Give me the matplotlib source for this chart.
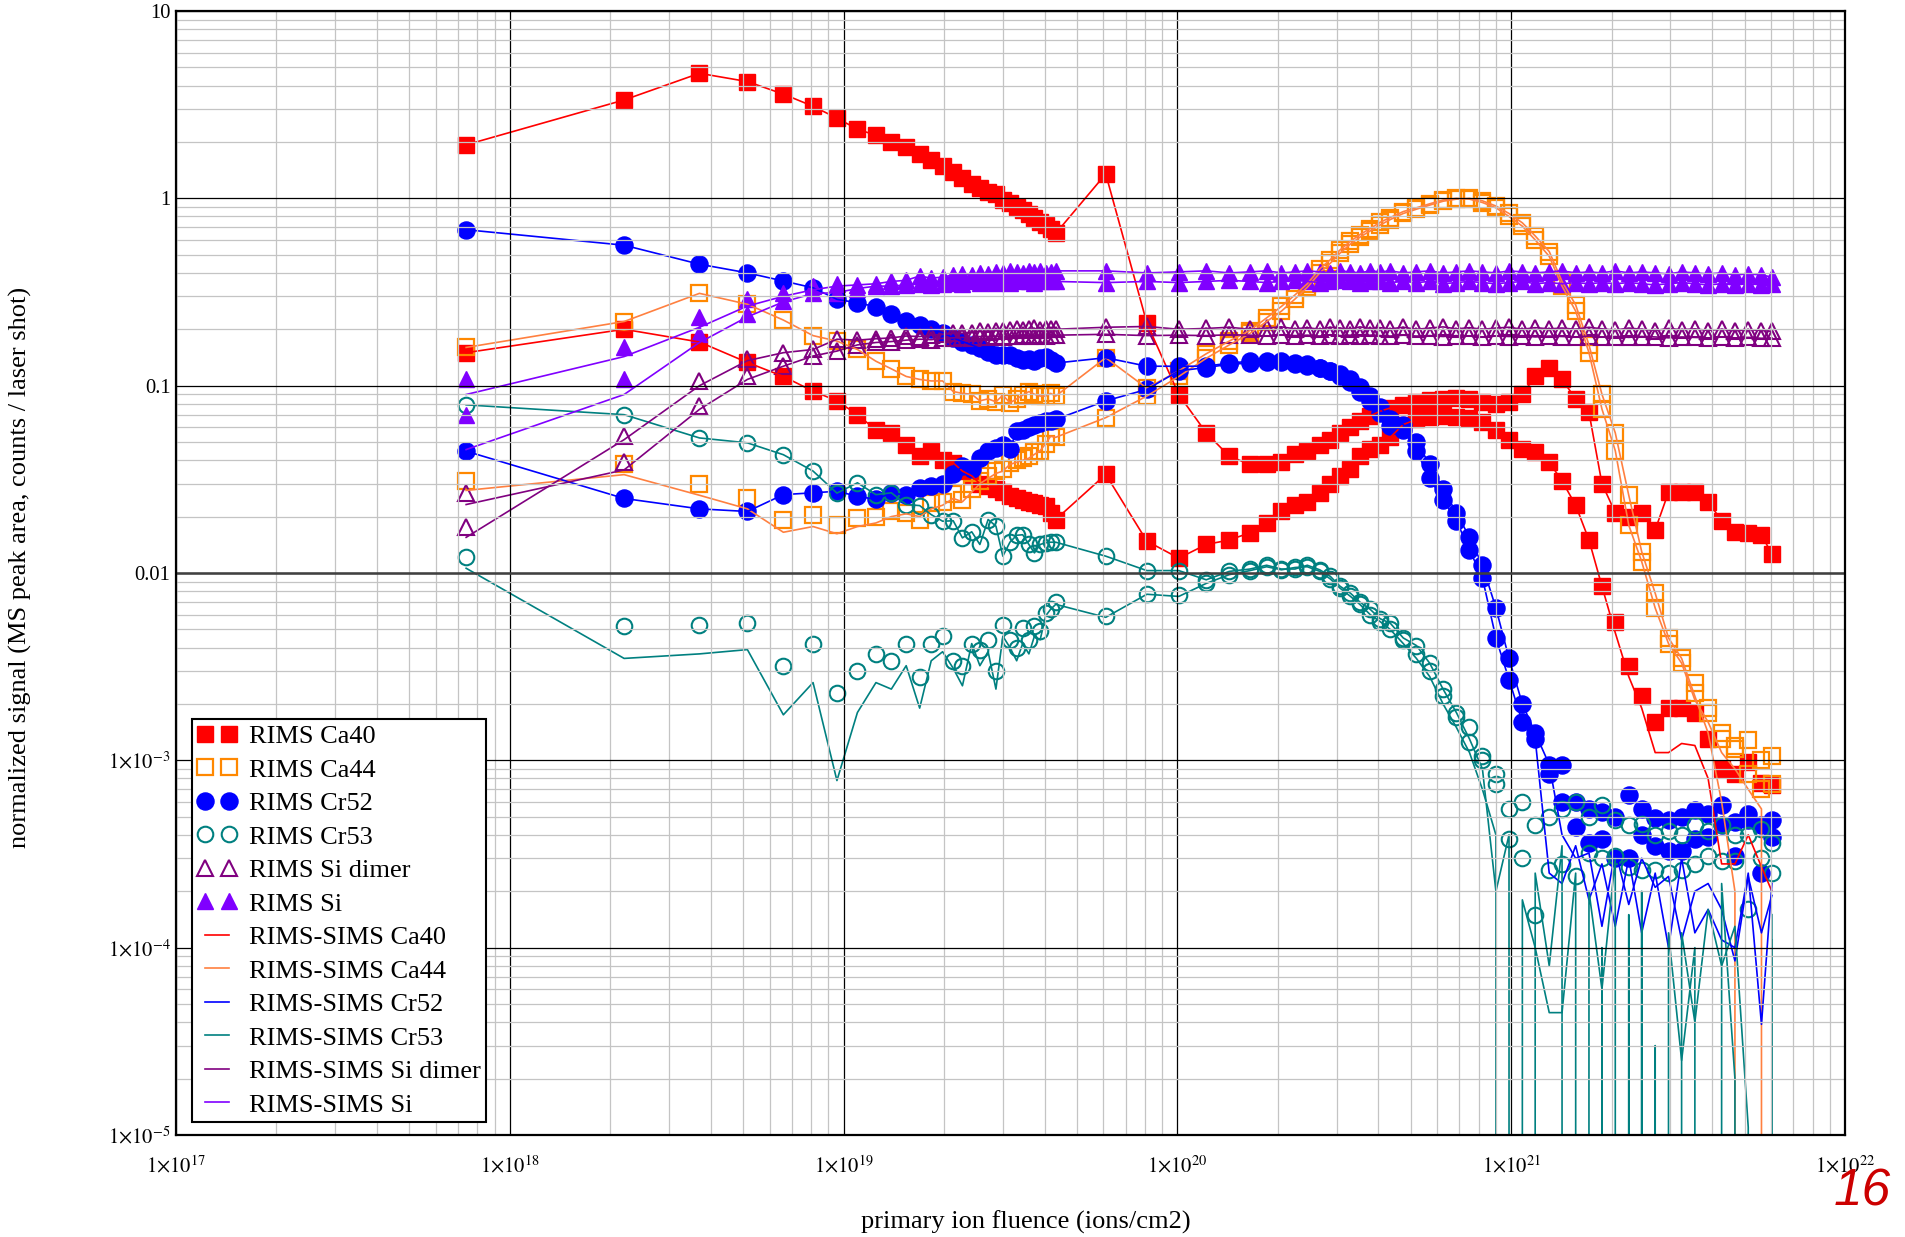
import numpy as np
import matplotlib
matplotlib.use('Agg')
import matplotlib.pyplot as plt
from matplotlib.ticker import LogLocator, NullFormatter

plt.rcParams['font.family'] = ['Liberation Serif', 'DejaVu Serif']
plt.rcParams['mathtext.fontset'] = 'stix'

############################################################################
#   Data, fluence in units of 1e18 ions/cm2         #
############################################################################
fluence_e18 = [0.74, 2.2, 3.7, 5.15, 6.6, 8.1, 9.55, 11.0, 12.5, 13.9,
               15.4, 16.9, 18.3, 19.8, 21.3, 22.7, 24.2, 25.6, 27.1, 28.6,
               30.0, 31.5, 33.0, 34.4, 35.9, 37.3, 38.8, 40.3, 41.7, 43.2,
               61, 81,
               101, 122, 143, 165, 185, 205, 225, 245, 267, 287, 307, 330, 352, 378, 405, 434,
               475, 520, 570, 625, 685, 750, 820, 900, 985, 1080, 1180, 1300, 1420, 1560,
               1710, 1870, 2050, 2250, 2460, 2700, 2960, 3240, 3550, 3890, 4270, 4680, 5130, 5620, 6040]

# RIMS Ca40 (two runs)
ca40_run1 = [1.93, 3.35, 4.65, 4.2, 3.6, 3.1, 2.68, 2.34, 2.17, 1.99,
             1.87, 1.73, 1.61, 1.49, 1.39, 1.29, 1.19, 1.14, 1.08, 1.05,
             0.98, 0.95, 0.90, 0.87, 0.82, 0.79, 0.75, 0.72, 0.69, 0.65,
             1.35, 0.216,
             0.0895, 0.056, 0.042, 0.038, 0.038, 0.039, 0.043, 0.045, 0.048, 0.051, 0.056, 0.060, 0.065, 0.069, 0.073, 0.076,
             0.079, 0.082, 0.084, 0.085, 0.086, 0.085, 0.082, 0.080, 0.082, 0.09, 0.112, 0.124, 0.108, 0.085,
             0.072, 0.03, 0.021, 0.02, 0.021, 0.017, 0.027, 0.027, 0.027, 0.024, 0.019, 0.0165, 0.0163, 0.016, 0.0126]
ca40_run2 = [0.15, 0.20, 0.171, 0.133, 0.112, 0.0935, 0.083, 0.070, 0.058, 0.056,
             0.0485, 0.042, 0.045, 0.040, 0.0387, 0.035, 0.033, 0.030, 0.029, 0.028,
             0.027, 0.0257, 0.025, 0.0245, 0.024, 0.0235, 0.023, 0.0227, 0.021, 0.0193,
             0.0336, 0.0148,
             0.012, 0.0142, 0.015, 0.0164, 0.0185, 0.0214, 0.023, 0.024, 0.0267, 0.030, 0.033, 0.036, 0.042, 0.046, 0.048, 0.053,
             0.062, 0.066, 0.068, 0.069, 0.068, 0.067, 0.064, 0.058, 0.051, 0.046, 0.044, 0.039, 0.031, 0.023,
             0.015, 0.0085, 0.0055, 0.0032, 0.0022, 0.0016, 0.0019, 0.0019, 0.0018, 0.0013, 0.0009, 0.00085, 0.00098, 0.00076, 0.00074]

# RIMS Ca44
ca44_run1 = [0.16, 0.22, 0.311, 0.272, 0.224, 0.185, 0.173, 0.156, 0.135, 0.123,
             0.112, 0.108, 0.106, 0.106, 0.093, 0.091, 0.090, 0.083, 0.085, 0.082,
             0.089, 0.081, 0.085, 0.089, 0.093, 0.090, 0.088, 0.088, 0.091, 0.088,
             0.141, 0.097,
             0.12, 0.148, 0.173, 0.197, 0.23, 0.265, 0.305, 0.35, 0.42, 0.47, 0.53, 0.59, 0.64, 0.69, 0.745, 0.79,
             0.85, 0.89, 0.935, 0.98, 1.0, 0.99, 0.95, 0.89, 0.80, 0.71, 0.60, 0.49, 0.34, 0.25,
             0.15, 0.075, 0.045, 0.018, 0.0115, 0.0065, 0.0042, 0.0033, 0.0023, 0.0018, 0.0014, 0.0012, 0.00128, 0.001, 0.00105]
ca44_run2 = [0.031, 0.038, 0.0297, 0.0251, 0.0193, 0.0205, 0.0181, 0.0197, 0.020, 0.0214,
             0.021, 0.0193, 0.0237, 0.024, 0.0263, 0.0245, 0.028, 0.031, 0.033, 0.035,
             0.036, 0.0387, 0.040, 0.041, 0.042, 0.044, 0.045, 0.049, 0.0537, 0.053,
             0.0675, 0.088,
             0.112, 0.14, 0.165, 0.19, 0.22, 0.25, 0.29, 0.335, 0.40, 0.45, 0.51, 0.57, 0.62, 0.67, 0.72, 0.77,
             0.83, 0.875, 0.92, 0.965, 0.99, 1.0, 0.97, 0.91, 0.83, 0.74, 0.63, 0.52, 0.36, 0.27,
             0.165, 0.09, 0.056, 0.026, 0.013, 0.0078, 0.0045, 0.0035, 0.0026, 0.0019, 0.0013, 0.00115, 0.00085, 0.0007, 0.00075]

# RIMS Cr52
cr52_run1 = [0.68, 0.562, 0.445, 0.40, 0.362, 0.333, 0.289, 0.277, 0.264, 0.24,
             0.222, 0.212, 0.20, 0.192, 0.18, 0.172, 0.165, 0.158, 0.152, 0.146,
             0.145, 0.145, 0.14, 0.137, 0.138, 0.136, 0.14, 0.142, 0.137, 0.132,
             0.141, 0.127,
             0.127, 0.127, 0.132, 0.135, 0.135, 0.135, 0.13, 0.13, 0.124, 0.12, 0.112, 0.104, 0.093, 0.083, 0.0716, 0.061,
             0.058, 0.045, 0.032, 0.0246, 0.019, 0.0133, 0.0094, 0.0045, 0.0027, 0.0016, 0.0013, 0.00085, 0.00094, 0.0006,
             0.00055, 0.00053, 0.0005, 0.00065, 0.00055, 0.00049, 0.00048, 0.0005, 0.00054, 0.00052, 0.00058, 0.00047, 0.00052, 0.00045, 0.00048]
cr52_run2 = [0.0447, 0.025, 0.022, 0.0213, 0.0262, 0.0268, 0.0273, 0.0257, 0.0247, 0.0268,
             0.026, 0.0284, 0.029, 0.0297, 0.0336, 0.0372, 0.036, 0.0412, 0.0447, 0.0466,
             0.048, 0.046, 0.057, 0.058, 0.060, 0.062, 0.063, 0.0646, 0.065, 0.066,
             0.083, 0.0955,
             0.12, 0.125, 0.13, 0.132, 0.134, 0.133, 0.132, 0.128, 0.125, 0.12, 0.115, 0.108, 0.098, 0.088, 0.077, 0.066,
             0.062, 0.05, 0.038, 0.028, 0.021, 0.0155, 0.011, 0.0065, 0.0035, 0.002, 0.0014, 0.00095, 0.0006, 0.00044,
             0.00036, 0.00038, 0.0003, 0.0003, 0.0004, 0.00035, 0.00033, 0.00033, 0.00038, 0.00039, 0.00045, 0.00031, 0.00048, 0.00025, 0.00039]

# RIMS Cr53
cr53_run1 = [0.079, 0.070, 0.0526, 0.0495, 0.0428, 0.035, 0.0267, 0.0303, 0.0262, 0.0268,
             0.0232, 0.0229, 0.0205, 0.0189, 0.019, 0.0154, 0.0166, 0.0142, 0.0193, 0.0178,
             0.0123, 0.0146, 0.0159, 0.016, 0.0142, 0.0128, 0.0142, 0.0145, 0.0146, 0.0146,
             0.0123, 0.0103,
             0.0103, 0.0092, 0.0102, 0.0105, 0.011, 0.0105, 0.0105, 0.011, 0.0104, 0.0096, 0.0085, 0.0078, 0.007, 0.0064, 0.0057, 0.0054,
             0.0045, 0.0041, 0.0033, 0.0024, 0.0018, 0.0015, 0.00105, 0.00085, 0.00055, 0.0006, 0.00045, 0.0005, 0.00055, 0.0006,
             0.0005, 0.00058, 0.00048, 0.00045, 0.00046, 0.0004, 0.00042, 0.0004, 0.00045, 0.00042, 0.00045, 0.0004, 0.0004, 0.00043, 0.00036]
cr53_run2 = [0.0122, 0.0052, 0.0053, 0.0054, 0.0032, 0.0042, 0.0023, 0.003, 0.0037, 0.0034,
             0.0042, 0.0028, 0.0042, 0.0046, 0.0034, 0.0032, 0.0042, 0.0039, 0.0044, 0.003,
             0.0053, 0.0044, 0.004, 0.0051, 0.0044, 0.0052, 0.0049, 0.0061, 0.0064, 0.007,
             0.0059, 0.0077,
             0.0076, 0.0088, 0.0098, 0.0103, 0.0108, 0.0104, 0.0107, 0.0108, 0.0102, 0.0093, 0.0083, 0.0075, 0.0068, 0.006, 0.0055, 0.005,
             0.0044, 0.0037, 0.003, 0.0022, 0.0017, 0.00125, 0.001, 0.00075, 0.00038, 0.0003, 0.00015, 0.00026, 0.00028, 0.00024,
             0.00032, 0.0003, 0.00031, 0.00027, 0.00026, 0.00026, 0.00025, 0.00026, 0.00028, 0.00031, 0.00029, 0.00029, 0.00016, 0.0003, 0.00025]

# RIMS Si dimer
sidim_run1 = [0.0267, 0.0537, 0.106, 0.138, 0.15, 0.156, 0.177, 0.175, 0.178, 0.18,
              0.184, 0.183, 0.186, 0.188, 0.19, 0.19, 0.192, 0.195, 0.193, 0.197,
              0.195, 0.198, 0.2, 0.198, 0.2, 0.202, 0.199, 0.201, 0.2, 0.2,
              0.205, 0.207,
              0.2, 0.202, 0.205, 0.2, 0.203, 0.206, 0.201, 0.204, 0.2, 0.205, 0.203, 0.2, 0.206, 0.202, 0.204, 0.201,
              0.205, 0.2, 0.203, 0.206, 0.201, 0.204, 0.2, 0.203, 0.205, 0.2, 0.204, 0.201, 0.203, 0.2,
              0.205, 0.201, 0.198, 0.203, 0.2, 0.197, 0.202, 0.199, 0.201, 0.197, 0.2, 0.196, 0.199, 0.197, 0.195]
sidim_run2 = [0.0177, 0.039, 0.078, 0.112, 0.127, 0.144, 0.153, 0.165, 0.17, 0.172,
              0.175, 0.177, 0.176, 0.179, 0.18, 0.181, 0.18, 0.183, 0.182, 0.184,
              0.183, 0.185, 0.184, 0.186, 0.185, 0.184, 0.186, 0.185, 0.187, 0.186,
              0.188, 0.185,
              0.186, 0.185, 0.187, 0.186, 0.184, 0.187, 0.185, 0.186, 0.184, 0.187, 0.185, 0.186, 0.184, 0.186, 0.185, 0.184,
              0.186, 0.184, 0.185, 0.183, 0.185, 0.184, 0.182, 0.184, 0.183, 0.185, 0.182, 0.184, 0.183, 0.182,
              0.184, 0.182, 0.183, 0.181, 0.183, 0.182, 0.18, 0.182, 0.181, 0.18, 0.182, 0.18, 0.181, 0.179, 0.18]

# RIMS Si
si_run1 = [0.108, 0.16, 0.233, 0.289, 0.314, 0.34, 0.35, 0.345, 0.35, 0.36,
           0.365, 0.385, 0.375, 0.38, 0.39, 0.395, 0.39, 0.4, 0.395, 0.405,
           0.4, 0.41, 0.405, 0.4, 0.41, 0.405, 0.41, 0.4, 0.405, 0.41,
           0.41, 0.4,
           0.405, 0.41, 0.4, 0.405, 0.41, 0.4, 0.405, 0.41, 0.405, 0.4, 0.41, 0.405, 0.4, 0.41, 0.405, 0.41,
           0.4, 0.405, 0.41, 0.4, 0.405, 0.41, 0.405, 0.4, 0.41, 0.405, 0.4, 0.405, 0.41, 0.4,
           0.405, 0.4, 0.41, 0.4, 0.405, 0.4, 0.395, 0.405, 0.4, 0.395, 0.4, 0.39, 0.395, 0.39, 0.38]
si_run2 = [0.070, 0.109, 0.188, 0.24, 0.283, 0.314, 0.314, 0.33, 0.34, 0.34,
           0.345, 0.35, 0.345, 0.35, 0.355, 0.35, 0.36, 0.355, 0.36, 0.355,
           0.36, 0.355, 0.36, 0.365, 0.36, 0.355, 0.36, 0.365, 0.36, 0.36,
           0.355, 0.36,
           0.355, 0.36, 0.365, 0.36, 0.355, 0.36, 0.365, 0.36, 0.355, 0.36, 0.365, 0.36, 0.355, 0.36, 0.36, 0.355,
           0.36, 0.355, 0.36, 0.35, 0.355, 0.36, 0.355, 0.35, 0.355, 0.36, 0.35, 0.355, 0.35, 0.355,
           0.35, 0.355, 0.35, 0.355, 0.35, 0.345, 0.35, 0.355, 0.35, 0.345, 0.35, 0.345, 0.35, 0.345, 0.35]

# RIMS-SIMS traces: same as RIMS where the SIMS part is negligible,
# own readings where they split off (start, noisy tail). 0 = off-scale (<= 0)
ca40_sims1 = list(ca40_run1)
ca40_sims2 = ca40_run2[:64] + [0.0048, 0.0028, 0.0019, 0.0011, 0.0011, 0.00123, 0.0012,
                               0.0008, 0.00028, 0.00028, 0.0004, 0.00027, 0.0002]
ca44_sims1 = ca44_run1[:70] + [0.0021, 0.0016, 0.0011, 0.0009, 0.0007, 0.00055, 0.0]
ca44_sims2 = ([0.0276, 0.0335, 0.026, 0.022, 0.0165, 0.0177, 0.0162, 0.0177, 0.0185, 0.020,
               0.0207, 0.020, 0.022, 0.023, 0.025, 0.024, 0.027, 0.030, 0.032, 0.034,
               0.035, 0.038, 0.039, 0.040, 0.041, 0.043, 0.045]
              + ca44_run2[27:70] + [0.0022, 0.0014, 0.0006, 0.0002, 0.0, 0.0, 0.0])
cr52_sims1 = cr52_run1[:59] + [0.00025, 0.00022, 0.00035, 0.00018, 0.00028, 0.00013, 0.0003,
                               0.00012, 0.00025, 0.0001, 0.0003, 0.00012, 0.00016, 0.00011,
                               0.0001, 0.00025, 3.9e-5, 0.00022]
cr52_sims2 = cr52_run2[:60] + [0.0004, 0.0003, 0.00032, 0.00013, 0.00033, 0.00017, 0.0003,
                               0.00021, 0.00024, 0.00011, 0.0002, 0.00022, 0.00016, 8.5e-5,
                               0.00024, 0.00012, 0.00019]
cr53_sims1 = cr53_run1[:53] + [0.0013, 0.0009, 0.0002, 0.0004, 0.0, 0.00025, 8e-5, 0.00035,
                               0.0, 0.0002, 6e-5, 0.0003, 0.0, 0.0002, 0.0, 0.00012, 2.5e-5,
                               0.0001, 0.0, 0.00022, 2e-5, 0.0, 0.0, 0.00015]
cr53_sims2 = ([0.0106, 0.0035, 0.0037, 0.0039, 0.00175, 0.0026, 0.00078, 0.0018, 0.0026, 0.0024,
               0.0032, 0.0019, 0.0034, 0.0038, 0.0031, 0.0025, 0.0042, 0.0032, 0.0038, 0.0024,
               0.0046, 0.004, 0.0034, 0.0042, 0.0037, 0.0046, 0.0044, 0.0059, 0.0064, 0.0068,
               0.0058, 0.0077, 0.0075]
              + cr53_run2[33:48]
              + [0.0042, 0.0035, 0.0028, 0.002, 0.0015, 0.0011, 0.0007, 0.0004, 0.0, 0.00018,
                 0.0001, 4.5e-5, 4.5e-5, 0.00025, 0.0, 0.0001, 0.0, 0.00015, 0.0, 3e-5,
                 0.0, 0.00012, 4e-5, 0.00016, 8e-5, 0.00013, 1.1e-5, 0.0, 0.00011])
sidim_sims1 = [0.0155, 0.0515, 0.10, 0.136] + sidim_run1[4:]
sidim_sims2 = [0.0232, 0.0355, 0.0747, 0.108] + sidim_run2[4:]
si_sims1 = [0.0897, 0.143, 0.205, 0.266, 0.30, 0.325, 0.34] + si_run1[7:]
si_sims2 = [0.0456, 0.0897, 0.17, 0.233, 0.28, 0.31] + si_run2[6:]

species = ['Ca40', 'Ca44', 'Cr52', 'Cr53', 'Si dimer', 'Si']
rims_runs = [(ca40_run1, ca40_run2), (ca44_run1, ca44_run2), (cr52_run1, cr52_run2),
             (cr53_run1, cr53_run2), (sidim_run1, sidim_run2), (si_run1, si_run2)]
sims_runs = [(ca40_sims1, ca40_sims2), (ca44_sims1, ca44_sims2), (cr52_sims1, cr52_sims2),
             (cr53_sims1, cr53_sims2), (sidim_sims1, sidim_sims2), (si_sims1, si_sims2)]

xtick_vals = [1e17, 1e18, 1e19, 1e20, 1e21, 1e22]
xtick_labels = [r'$1{\times}10^{17}$', r'$1{\times}10^{18}$', r'$1{\times}10^{19}$',
                r'$1{\times}10^{20}$', r'$1{\times}10^{21}$', r'$1{\times}10^{22}$']
ytick_vals = [1e-5, 1e-4, 1e-3, 0.01, 0.1, 1, 10]
ytick_labels = [r'$1{\times}10^{-5}$', r'$1{\times}10^{-4}$', r'$1{\times}10^{-3}$',
                '0.01', '0.1', '1', '10']

############################################################################
#   Styles                                                                  #
############################################################################
marker_style = [
    dict(marker='s', ms=11.3, mfc='#ff0000', mec='#ff0000', mew=1.0),
    dict(marker='s', ms=11.0, mfc='none', mec='#ff8800', mew=1.6),
    dict(marker='o', ms=12.3, mfc='#0000ff', mec='#0000ff', mew=1.0),
    dict(marker='o', ms=11.2, mfc='none', mec='#008080', mew=1.5),
    dict(marker='^', ms=11.8, mfc='none', mec='#800080', mew=1.5),
    dict(marker='^', ms=11.8, mfc='#8000ff', mec='#8000ff', mew=1.0),
]
line_colors = ['#ff0000', '#ff8040', '#0000ff', '#008080', '#800080', '#8000ff']

fluence = np.array(fluence_e18) * 1e18

fig = plt.figure(figsize=(19.06, 12.37), dpi=100)
ax = fig.add_axes([176 / 1906, 1 - 1135 / 1237, (1845 - 176) / 1906, (1135 - 11) / 1237])
ax.set_xscale('log')
ax.set_yscale('log')

rims_handles = []
for name, (r1, r2), st in zip(species, rims_runs, marker_style):
    h, = ax.plot(fluence, r1, ls='none', label='RIMS ' + name, **st)
    ax.plot(fluence, r2, ls='none', **st)
    rims_handles.append(h)

sims_handles = []
for name, (s1, s2), c in zip(species, sims_runs, line_colors):
    h, = ax.plot(fluence, s1, color=c, lw=1.2, label='RIMS-SIMS ' + name)
    ax.plot(fluence, s2, color=c, lw=1.2)
    sims_handles.append(h)

ax.set_xlim(1e17, 1e22)
ax.set_ylim(1e-5, 10)

ax.set_xticks(xtick_vals, xtick_labels)
ax.set_yticks(ytick_vals, ytick_labels)
ax.xaxis.set_minor_locator(LogLocator(base=10, subs=np.arange(2, 10), numticks=100))
ax.yaxis.set_minor_locator(LogLocator(base=10, subs=np.arange(2, 10), numticks=100))
ax.xaxis.set_minor_formatter(NullFormatter())
ax.yaxis.set_minor_formatter(NullFormatter())
ax.tick_params(which='both', length=0)
ax.tick_params(axis='x', labelsize=14.8, pad=15)
ax.tick_params(axis='y', labelsize=14.8, pad=4)

# grid sits on top of the data, as in the original
ax.set_axisbelow(False)
ax.grid(True, which='minor', color='#c4c4c4', lw=0.9)
ax.grid(True, which='major', color='black', lw=0.9)
ax.axhline(0.01, color='#404040', lw=1.8, zorder=2.6)
for sp in ax.spines.values():
    sp.set_linewidth(1.6)
    sp.set_zorder(3)

ax.set_xlabel('primary ion fluence (ions/cm2)', fontsize=19)
ax.set_ylabel('normalized signal (MS peak area, counts / laser shot)', fontsize=19)
ax.xaxis.set_label_coords(0.509, -0.067)
ax.yaxis.set_label_coords(-0.086, 0.505)

leg = ax.legend(rims_handles + sims_handles,
                [h.get_label() for h in rims_handles + sims_handles],
                loc='lower left', bbox_to_anchor=(16 / 1669, 13 / 1124), borderaxespad=0,
                numpoints=2, fontsize=19, labelspacing=0.38, handlelength=1.5,
                handletextpad=0.45, borderpad=0.2, fancybox=False, framealpha=1,
                edgecolor='black')
leg.get_frame().set_linewidth(1.5)
leg.set_zorder(5)

fig.text(1862 / 1906, 1 - 1192 / 1237, '16', color='#cc0000', fontsize=37,
         fontstyle='italic', family='Liberation Sans', ha='center', va='center')

fig.savefig('out.png', dpi=100)
plt.close()
